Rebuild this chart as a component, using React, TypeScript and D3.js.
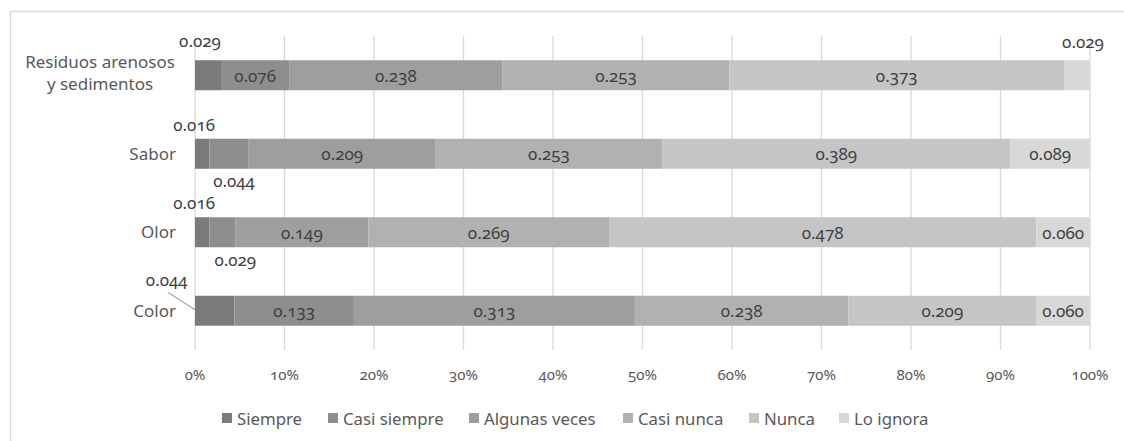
import React from "react";
import * as d3 from "d3";

const categories = ["Residuos arenosos y sedimentos", "Sabor", "Olor", "Color"];
const seriesNames = ["Siempre", "Casi siempre", "Algunas veces", "Casi nunca", "Nunca", "Lo ignora"];
const siempre = [0.029, 0.016, 0.016, 0.044];
const casiSiempre = [0.076, 0.044, 0.029, 0.133];
const algunasVeces = [0.238, 0.209, 0.149, 0.313];
const casiNunca = [0.253, 0.253, 0.269, 0.238];
const nunca = [0.373, 0.389, 0.478, 0.209];
const loIgnora = [0.029, 0.089, 0.06, 0.06];
const xTicks = [0, 0.1, 0.2, 0.3, 0.4, 0.5, 0.6, 0.7, 0.8, 0.9, 1];

const colors = ["#7b7b7b", "#8e8e8e", "#9e9e9e", "#b1b1b1", "#c5c5c5", "#d8d8d8"];
const FONT = "'Noto Sans', 'Open Sans', sans-serif";

const W = 1124;
const H = 441;

export default function App() {
  const seriesValues = [siempre, casiSiempre, algunasVeces, casiNunca, nunca, loIgnora];
  const rows = categories.map((c, i) => {
    const obj: any = { cat: c };
    const total = d3.sum(seriesValues, (s) => s[i]);
    seriesNames.forEach((n, k) => (obj[n] = seriesValues[k][i] / total));
    obj.raw = seriesValues.map((s) => s[i]);
    return obj;
  });
  const stacked = d3.stack().keys(seriesNames)(rows as any);

  const x = d3.scaleLinear().domain([0, 1]).range([195, 1090]);
  const y = d3.scalePoint().domain(categories).range([36, 350]).padding(0.5);
  const bh = 30;

  // offsets (px) of labels moved outside their small segments
  const outside: Record<string, { dx: number; dy: number; leader?: boolean }> = {
    "0-0": { dx: -8, dy: -35 },
    "5-0": { dx: 6, dy: -34 },
    "0-1": { dx: -8, dy: -29 },
    "1-1": { dx: 5, dy: 27 },
    "0-2": { dx: -8, dy: -30 },
    "1-2": { dx: 13, dy: 27 },
    "0-3": { dx: -48, dy: -31, leader: true },
  };

  const legendTextX = [237, 343, 484, 638, 764, 854];
  const numStyle = { fontVariantNumeric: "oldstyle-nums" } as React.CSSProperties;

  return (
    <svg width={W} height={H} style={{ position: "absolute", left: 0, top: 0 }} fontFamily={FONT}>
      <rect x={0} y={0} width={W} height={H} fill="#fff" />
      <path d={`M10.5,${H + 5} V11.5 H${W + 5}`} fill="none" stroke="#d9d9d9" strokeWidth={1.5} />
      {xTicks.map((t) => (
        <g key={t}>
          <line x1={x(t)} x2={x(t)} y1={36} y2={350} stroke="#d9d9d9" strokeWidth={1.3} />
          <text x={x(t)} y={380} textAnchor="middle" fontSize={15} fill="#595959" style={numStyle}>
            {d3.format(".0%")(t)}
          </text>
        </g>
      ))}
      {stacked.map((layer, k) => (
        <g key={layer.key}>
          {layer.map((d: any, i: number) => (
            <rect
              key={i}
              x={x(d[0])}
              y={(y(categories[i]) as number) - bh / 2}
              width={x(d[1]) - x(d[0])}
              height={bh}
              fill={colors[k]}
            />
          ))}
        </g>
      ))}
      {stacked.map((layer, k) =>
        layer.map((d: any, i: number) => {
          const cx = (x(d[0]) + x(d[1])) / 2;
          const cy = y(categories[i]) as number;
          const label = d3.format(".3f")(rows[i].raw[k]);
          const o = outside[`${k}-${i}`];
          if (o) {
            const lx = cx + o.dx;
            const ly = cy + o.dy + 6.5;
            return (
              <g key={`${k}-${i}`}>
                {o.leader && (
                  <line x1={lx + 1} y1={ly + 6} x2={x(d[0])} y2={cy - 1} stroke="#a6a6a6" strokeWidth={1.2} />
                )}
                <text x={lx} y={ly} textAnchor="middle" fontSize={17} fill="#404040" style={numStyle}>
                  {label}
                </text>
              </g>
            );
          }
          return (
            <text key={`${k}-${i}`} x={cx} y={cy + 6.5} textAnchor="middle" fontSize={17} fill="#404040" style={numStyle}>
              {label}
            </text>
          );
        })
      )}
      {categories.map((c) => {
        const cy = y(c) as number;
        if (c.startsWith("Residuos")) {
          return (
            <text key={c} x={100} textAnchor="middle" fontSize={17} fill="#595959">
              <tspan x={100} y={cy - 7}>Residuos arenosos</tspan>
              <tspan x={100} y={cy + 15}>y sedimentos</tspan>
            </text>
          );
        }
        return (
          <text key={c} x={176} y={cy + 6} textAnchor="end" fontSize={17} fill="#595959">
            {c}
          </text>
        );
      })}
      {seriesNames.map((n, k) => (
        <g key={n}>
          <rect x={legendTextX[k] - 15} y={413} width={10} height={10} fill={colors[k]} />
          <text x={legendTextX[k]} y={425} fontSize={16.8} fill="#595959">
            {n}
          </text>
        </g>
      ))}
    </svg>
  );
}
